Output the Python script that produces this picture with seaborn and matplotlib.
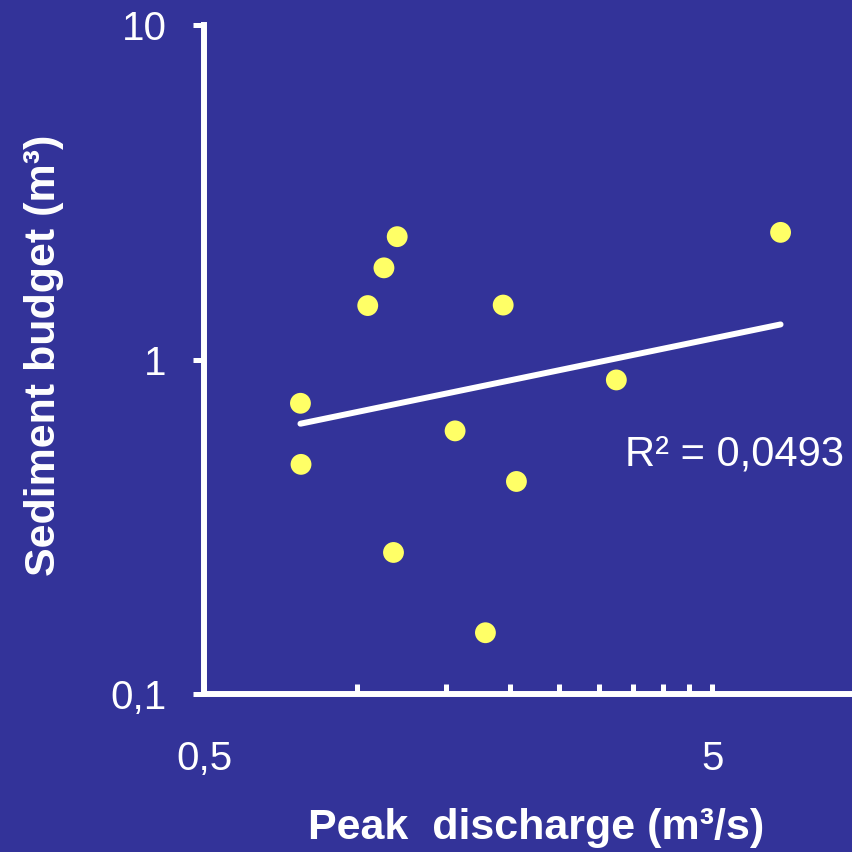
import numpy as np
import pandas as pd
import matplotlib
matplotlib.use('Agg')
import matplotlib.pyplot as plt
import seaborn as sns
from matplotlib.ticker import NullLocator, NullFormatter

# Peak discharge (m3/s) and sediment budget (m3) per event
peak_discharge = [1.20, 1.13, 1.05, 1.94, 0.774, 1.56, 0.776, 2.06, 1.18, 1.79, 6.82, 3.24]
sediment_budget = [2.33, 1.88, 1.45, 1.455, 0.740, 0.612, 0.486, 0.432, 0.265, 0.1525, 2.40, 0.869]

x_major = [0.5, 5]
x_major_labels = ['0,5', '5']
x_minor = [1, 1.5, 2, 2.5, 3, 3.5, 4, 4.5]
y_major = [0.1, 1, 10]
y_major_labels = ['0,1', '1', '10']
r2_text = 'R² = 0,0493'

bg = '#333399'
yellow = '#FFFF66'
white = '#FFFFFF'

df = pd.DataFrame({'q': peak_discharge, 'v': sediment_budget})

# power trendline fitted in log-log space (like Excel)
slope, icpt = np.polyfit(np.log10(df['q']), np.log10(df['v']), 1)
q_fit = np.array([df['q'].min(), df['q'].max()])
v_fit = 10 ** (icpt + slope * np.log10(q_fit))

sns.set_style('white')
plt.rcParams['font.family'] = ['Liberation Sans', 'DejaVu Sans']

fig = plt.figure(figsize=(8.53, 8.52), dpi=100, facecolor=bg)
ax = fig.add_axes([0.2392, 0.1854, 0.7608, 0.7852])
ax.set_facecolor(bg)

sns.lineplot(x=q_fit, y=v_fit, ax=ax, color=white, lw=4.3,
             solid_capstyle='round', zorder=2)
sns.scatterplot(data=df, x='q', y='v', ax=ax, color=yellow, s=225,
                edgecolor='none', zorder=3, clip_on=False)

ax.set_xscale('log')
ax.set_yscale('log')
ax.set_xlim(0.5, 9.47)
ax.set_ylim(0.1, 10)

ax.set_xticks(x_major, x_major_labels)
ax.set_xticks(x_minor, minor=True)
ax.xaxis.set_minor_formatter(NullFormatter())
ax.set_yticks(y_major, y_major_labels)
ax.yaxis.set_minor_locator(NullLocator())

for side in ['top', 'right']:
    ax.spines[side].set_visible(False)
for side in ['left', 'bottom']:
    ax.spines[side].set_color(white)
    ax.spines[side].set_linewidth(4.3)

ax.tick_params(axis='y', which='major', left=True, direction='out', length=8,
               width=3.6, color=white, labelcolor=white, labelsize=29, pad=19)
ax.tick_params(axis='x', which='both', bottom=True, direction='in', length=7.5,
               width=3.6, color=white, labelcolor=white, labelsize=29, pad=33)

ax.set_xlabel('')
ax.set_ylabel('')
fig.text(0.628, 0.028, 'Peak  discharge (m³/s)', color=white, fontsize=31,
         fontweight='bold', ha='center', va='center')
fig.text(0.0516, 0.5833, 'Sediment budget (m³)', color=white, fontsize=31,
         fontweight='bold', ha='center', va='center', rotation=90)

ax.text(0.6487, 0.3587, r2_text, transform=ax.transAxes, color=white,
        fontsize=30, ha='left', va='center')

fig.savefig('out.png', dpi=100, facecolor=bg)
